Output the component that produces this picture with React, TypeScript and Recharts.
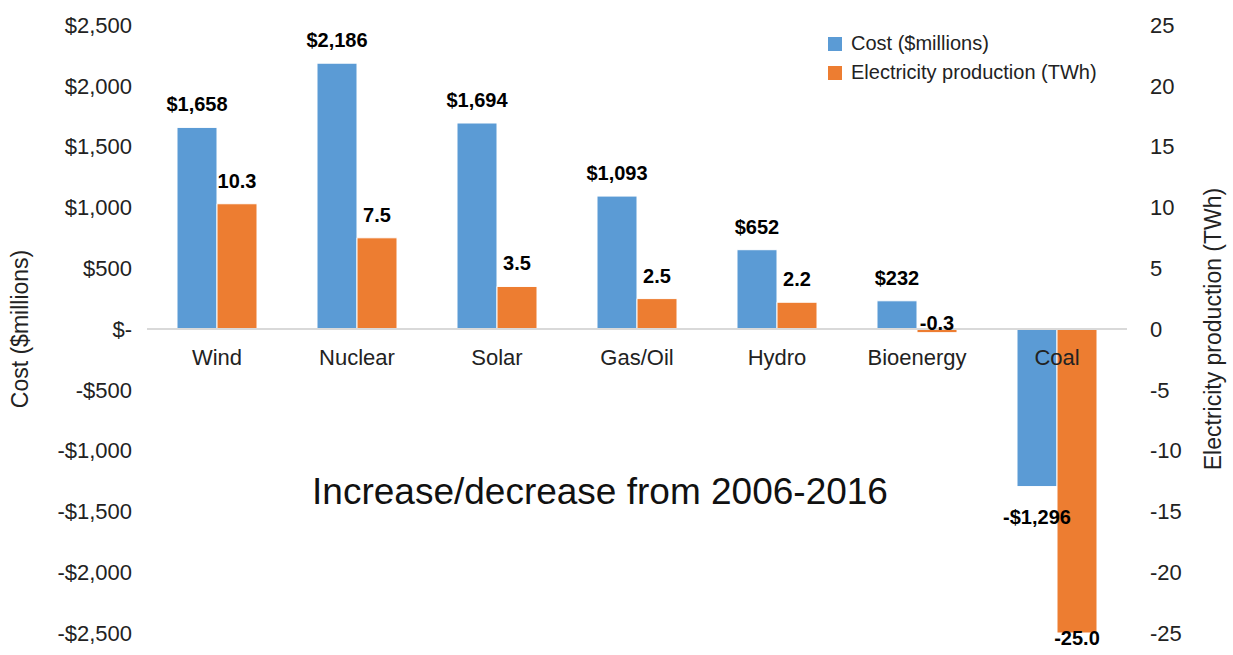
import React from "react";
import {
  BarChart,
  Bar,
  XAxis,
  YAxis,
  LabelList,
  ReferenceLine,
  ReferenceDot,
} from "recharts";

const sources = ["Wind", "Nuclear", "Solar", "Gas/Oil", "Hydro", "Bioenergy", "Coal"];
const costMillions = [1658, 2186, 1694, 1093, 652, 232, -1296];
const productionTWh = [10.3, 7.5, 3.5, 2.5, 2.2, -0.3, -25.0];
const costTicks = [-2500, -2000, -1500, -1000, -500, 0, 500, 1000, 1500, 2000, 2500];
const twhTicks = [-25, -20, -15, -10, -5, 0, 5, 10, 15, 20, 25];

const BLUE = "#5B9BD5";
const ORANGE = "#ED7D31";
const FONT = '"Helvetica Neue", "Liberation Sans", Arial, sans-serif';

const series = [
  { key: "cost", name: "Cost ($millions)", color: BLUE },
  { key: "twh", name: "Electricity production (TWh)", color: ORANGE },
];

const data = sources.map((name, i) => ({
  name,
  cost: costMillions[i],
  twh: productionTWh[i],
}));

const money = (v: number) => {
  if (v === 0) return "$-";
  const s = "$" + Math.abs(v).toLocaleString("en-US");
  return v < 0 ? "-" + s : s;
};

const makeLabel = (fmt: (v: number) => string) => (props: any) => {
  const vb = props.viewBox ?? props;
  const x = Number(vb.x ?? props.x);
  const y = Number(vb.y ?? props.y);
  const w = Number(vb.width ?? props.width);
  const h = Number(vb.height ?? props.height);
  const v = Number(props.value);
  const top = Math.min(y, y + h);
  const bottom = Math.max(y, y + h);
  let cy: number;
  if (v >= 0) cy = top - 23;
  else if (bottom - top < 20) cy = bottom - 10;
  else cy = bottom + 30 > 620 ? bottom + 5 : bottom + 30;
  return (
    <text
      x={x + w / 2}
      y={cy}
      textAnchor="middle"
      dominantBaseline="central"
      fontFamily={FONT}
      fontWeight="bold"
      fontSize={20}
      fill="#000"
    >
      {fmt(v)}
    </text>
  );
};

export default function App() {
  return (
    <div style={{ position: "absolute", left: 0, top: 0, width: 1233, height: 655, background: "#fff" }}>
      <BarChart
        width={1233}
        height={655}
        data={data}
        margin={{ top: 25, right: 0, bottom: 22, left: 0 }}
        barCategoryGap={30}
        barGap={0}
      >
        <XAxis dataKey="name" hide />
        <YAxis
          yAxisId="left"
          width={147}
          domain={[-2500, 2500]}
          ticks={costTicks}
          tickFormatter={money}
          axisLine={false}
          tickLine={false}
          tickSize={0}
          tickMargin={15}
          interval={0}
          tick={{ fill: "#222", fontSize: 22, fontFamily: FONT }}
          label={{
            value: "Cost ($millions)",
            angle: -90,
            position: "insideLeft",
            offset: 20,
            style: { textAnchor: "middle", fill: "#222", fontSize: 23, fontFamily: FONT },
          }}
        />
        <YAxis
          yAxisId="right"
          orientation="right"
          width={106}
          domain={[-25, 25]}
          ticks={twhTicks}
          axisLine={false}
          tickLine={false}
          tickSize={0}
          tickMargin={23}
          interval={0}
          tick={{ fill: "#222", fontSize: 22, fontFamily: FONT, textAnchor: "start" }}
          label={{
            value: "Electricity production (TWh)",
            angle: -90,
            position: "insideRight",
            offset: 20,
            style: { textAnchor: "middle", fill: "#222", fontSize: 23, fontFamily: FONT },
          }}
        />
        <ReferenceLine yAxisId="left" y={0} stroke="#d9d9d9" strokeWidth={2} />
        <Bar
          yAxisId="left"
          dataKey="cost"
          name={series[0].name}
          fill={BLUE}
          stroke="#fff"
          strokeWidth={1}
          isAnimationActive={false}
        >
          <LabelList dataKey="cost" content={makeLabel(money)} />
        </Bar>
        <Bar
          yAxisId="right"
          dataKey="twh"
          name={series[1].name}
          fill={ORANGE}
          stroke="#fff"
          strokeWidth={1}
          isAnimationActive={false}
        >
          <LabelList dataKey="twh" content={makeLabel((v) => v.toFixed(1))} />
        </Bar>
        {sources.map((s) => (
          <ReferenceDot
            key={s}
            yAxisId="left"
            x={s}
            y={0}
            r={0}
            fill="none"
            stroke="none"
            label={{
              value: s,
              position: "bottom",
              offset: 20,
              fill: "#222",
              fontSize: 22,
              fontFamily: FONT,
            }}
          />
        ))}
      </BarChart>
      {/* legend */}
      <div
        style={{
          position: "absolute",
          top: 29,
          left: 828,
          fontFamily: FONT,
          fontSize: 20,
          color: "#222",
        }}
      >
        {series.map((p) => (
          <div key={p.key} style={{ display: "flex", alignItems: "center", height: 29 }}>
            <span style={{ width: 14, height: 14, background: p.color, marginRight: 9 }} />
            <span>{p.name}</span>
          </div>
        ))}
      </div>
      <div
        style={{
          position: "absolute",
          left: 0,
          width: 1200,
          top: 471,
          textAlign: "center",
          fontFamily: FONT,
          fontSize: 37,
          color: "#111",
          pointerEvents: "none",
        }}
      >
        Increase/decrease from 2006-2016
      </div>
    </div>
  );
}
